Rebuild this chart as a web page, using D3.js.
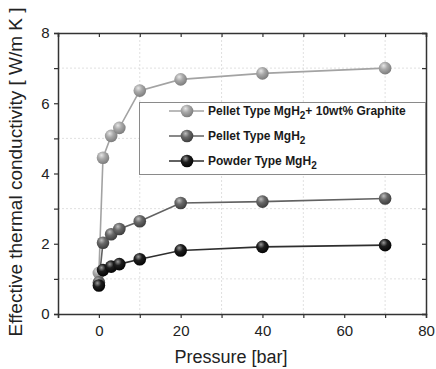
<!DOCTYPE html>
<html>
<head>
<meta charset="utf-8">
<script src="https://cdn.jsdelivr.net/npm/d3@7"></script>
<style>
  body { margin: 0; background: #fff; }
  svg { display: block; font-family: "Liberation Sans", Arial, sans-serif; }
</style>
</head>
<body>
<svg id="chart" width="436" height="369"></svg>
<script>
// data
const pressure = [0, 1, 3, 5, 10, 20, 40, 70];
const graphiteVals = [1.17, 4.45, 5.07, 5.3, 6.36, 6.68, 6.85, 7.0];
const pelletVals = [0.9, 2.03, 2.27, 2.42, 2.64, 3.16, 3.2, 3.29];
const powderVals = [0.81, 1.25, 1.35, 1.42, 1.56, 1.81, 1.91, 1.96];
const seriesNames = ['Pellet Type MgH', 'Pellet Type MgH', 'Powder Type MgH'];
const xTicks = [0, 20, 40, 60, 80];
const yTicks = [0, 2, 4, 6, 8];

const svg = d3.select('#chart');
const margin = { left: 58, right: 10, top: 33, bottom: 55 };
const W = 436, H = 369;

const x = d3.scaleLinear().domain([-10, 80]).range([margin.left, W - margin.right]);
const y = d3.scaleLinear().domain([0, 8]).range([H - margin.bottom, margin.top]);

const series = [
  { vals: graphiteVals, line: '#a3a3a3', base: '#a9a9a9', dark: '#7d7d7d', hi: '#e6e6e6' },
  { vals: pelletVals, line: '#626262', base: '#686868', dark: '#3e3e3e', hi: '#bdbdbd' },
  { vals: powderVals, line: '#2e2e2e', base: '#1e1e1e', dark: '#050505', hi: '#9a9a9a' }
];

// sphere gradients
const defs = svg.append('defs');
series.forEach((s, i) => {
  const g = defs.append('radialGradient').attr('id', 'ball' + i)
    .attr('cx', '40%').attr('cy', '35%').attr('r', '65%').attr('fx', '38%').attr('fy', '30%');
  g.append('stop').attr('offset', '0%').attr('stop-color', s.hi);
  g.append('stop').attr('offset', '45%').attr('stop-color', s.base);
  g.append('stop').attr('offset', '100%').attr('stop-color', s.dark);
});

// grid on minor values
const gridX = [10, 30, 50, 70];
const gridY = [1, 3, 5, 7];
svg.append('g').selectAll('line').data(gridX).enter().append('line')
  .attr('x1', d => x(d)).attr('x2', d => x(d))
  .attr('y1', y(0)).attr('y2', y(8))
  .attr('stroke', '#d8d8d8').attr('stroke-dasharray', '2,2').attr('stroke-width', 0.8);
svg.append('g').selectAll('line').data(gridY).enter().append('line')
  .attr('x1', x(-10)).attr('x2', x(80))
  .attr('y1', d => y(d)).attr('y2', d => y(d))
  .attr('stroke', '#d8d8d8').attr('stroke-dasharray', '2,2').attr('stroke-width', 0.8);

// axes
const axisColor = '#333';
const axB = svg.append('g').attr('transform', `translate(0,${y(0)})`)
  .call(d3.axisBottom(x).tickValues(d3.range(-10, 81, 10)).tickSize(4)
    .tickFormat(d => xTicks.includes(d) ? d : ''));
const axL = svg.append('g').attr('transform', `translate(${x(-10)},0)`)
  .call(d3.axisLeft(y).tickValues(d3.range(0, 8.1, 1)).tickSize(4)
    .tickFormat(d => yTicks.includes(d) ? d : ''));
const axT = svg.append('g').attr('transform', `translate(0,${y(8)})`)
  .call(d3.axisTop(x).tickValues(d3.range(-10, 81, 10)).tickSize(-4).tickFormat(''));
const axR = svg.append('g').attr('transform', `translate(${x(80)},0)`)
  .call(d3.axisRight(y).tickValues(d3.range(0, 8.1, 1)).tickSize(-4).tickFormat(''));
[axB, axL, axT, axR].forEach(a => {
  a.select('.domain').attr('stroke', axisColor).attr('stroke-width', 1.5);
  a.selectAll('.tick line').attr('stroke', axisColor).attr('stroke-width', 1.2);
  a.selectAll('text').attr('fill', '#222').style('font-size', '15px')
    .style('font-family', '"Liberation Sans", Arial, sans-serif');
});
axB.selectAll('text').attr('dy', '1.0em');
axL.selectAll('text').attr('dx', '-0.1em');

// axis titles
svg.append('text').attr('x', 231).attr('y', 363)
  .attr('text-anchor', 'middle').attr('fill', '#222').style('font-size', '18px')
  .text('Pressure [bar]');
svg.append('text')
  .attr('transform', `translate(22,172) rotate(-90)`)
  .attr('text-anchor', 'middle').attr('fill', '#222').style('font-size', '19px')
  .text('Effective thermal conductivity [ W/m K ]');

// lines + markers
const lineGen = d3.line().x((d, i) => x(pressure[i])).y(d => y(d));
series.forEach((s, i) => {
  svg.append('path').datum(s.vals).attr('d', lineGen)
    .attr('fill', 'none').attr('stroke', s.line).attr('stroke-width', 1.6);
});
series.forEach((s, i) => {
  svg.append('g').selectAll('circle').data(s.vals).enter().append('circle')
    .attr('cx', (d, j) => x(pressure[j])).attr('cy', d => y(d)).attr('r', 6.3)
    .attr('fill', `url(#ball${i})`);
});

// legend
const leg = svg.append('g');
leg.append('rect').attr('x', 139.5).attr('y', 102.5).attr('width', 286).attr('height', 72)
  .attr('fill', '#fff').attr('stroke', '#8a8a8a').attr('stroke-width', 1);
series.forEach((s, i) => {
  const ly = 111 + i * 25;
  leg.append('line').attr('x1', 169).attr('x2', 204).attr('y1', ly).attr('y2', ly)
    .attr('stroke', s.line).attr('stroke-width', 1.6);
  leg.append('circle').attr('cx', 187).attr('cy', ly).attr('r', 6.3).attr('fill', `url(#ball${i})`);
  const t = leg.append('text').attr('x', 208).attr('y', ly + 4)
    .attr('fill', '#1a1a1a').style('font-size', '12px').style('font-weight', 'bold');
  t.append('tspan').text(seriesNames[i]);
  t.append('tspan').attr('dy', 4).style('font-size', '10px').text('2');
  if (i === 0) t.append('tspan').attr('dy', -4).text('+ 10wt% Graphite');
});
</script>
</body>
</html>
